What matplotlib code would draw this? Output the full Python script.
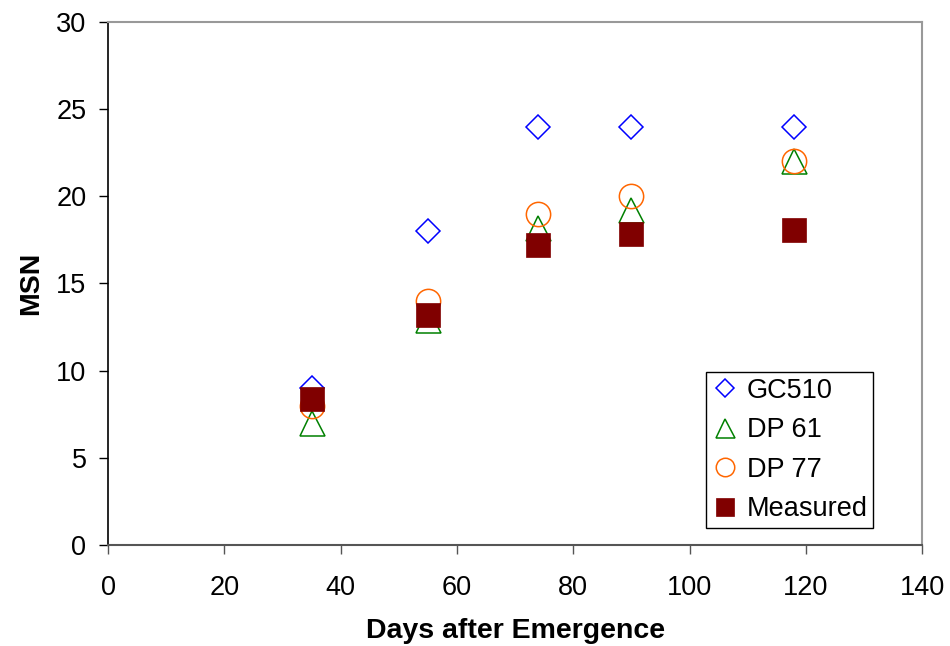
import numpy as np
import matplotlib.pyplot as plt

plt.rcParams['font.family'] = ['Liberation Sans', 'DejaVu Sans']

# days after emergence
days = [35, 55, 74, 90, 118]

# main stem node counts
gc510 = [9, 18, 24, 24, 24]
dp61 = [7, 12.9, 18.2, 19.2, 22]
dp77 = [8, 14, 19, 20, 22]
measured = [8.4, 13.2, 17.2, 17.85, 18.05]

fig = plt.figure(figsize=(9.5, 6.46), dpi=100)
ax = fig.add_axes([0.1137, 0.1563, 0.857, 0.8097])

ax.plot(days, gc510, linestyle='none', marker='D', markersize=12.5,
        markerfacecolor='none', markeredgecolor='#0000ff', markeredgewidth=1.1, label='GC510')
ax.plot(days, dp61, linestyle='none', marker='^', markersize=18,
        markerfacecolor='none', markeredgecolor='#008000', markeredgewidth=1.1, label='DP 61')
ax.plot(days, dp77, linestyle='none', marker='o', markersize=17.5,
        markerfacecolor='none', markeredgecolor='#ff6600', markeredgewidth=1.1, label='DP 77')
ax.plot(days, measured, linestyle='none', marker='s', markersize=17.5,
        markerfacecolor='#800000', markeredgecolor='#800000', markeredgewidth=0.5, label='Measured')

ax.set_xlim(0, 140)
ax.set_ylim(0, 30)
ax.set_xticks(np.arange(0, 141, 20))
ax.set_yticks(np.arange(0, 31, 5))
ax.tick_params(labelsize=19.5, length=6.5, width=1, direction='out')
ax.tick_params(axis='x', pad=15, color='#555555')
ax.tick_params(axis='y', pad=9)

ax.set_xlabel('Days after Emergence', fontsize=20.5, fontweight='bold', labelpad=12)
ax.set_ylabel('MSN', fontsize=20.5, fontweight='bold', labelpad=9)

for side in ['top', 'right']:
    ax.spines[side].set_color('#999999')
    ax.spines[side].set_linewidth(1.5)
ax.spines['left'].set_color('black')
ax.spines['bottom'].set_color('#555555')
ax.spines['left'].set_linewidth(1.2)
ax.spines['bottom'].set_linewidth(1.5)

leg = ax.legend(loc='lower right', bbox_to_anchor=(0.94, 0.033), fontsize=19.5,
                frameon=True, fancybox=False, edgecolor='black', framealpha=1,
                markerscale=0.76, handlelength=1.0, handletextpad=0.3, borderpad=0.2,
                labelspacing=0.5, borderaxespad=0)
leg.get_frame().set_linewidth(1)

fig.savefig('out.png', dpi=100)
